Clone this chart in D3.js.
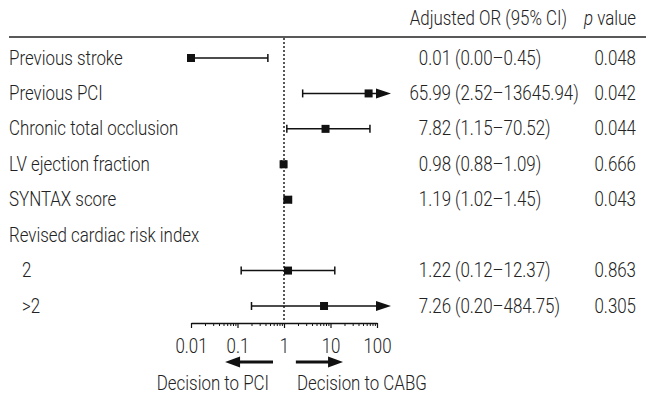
<!DOCTYPE html>
<html>
<head>
<meta charset="utf-8">
<script src="https://cdn.jsdelivr.net/npm/d3@7"></script>
<style>
  body { margin: 0; background: #fff; }
  text { font-family: Roboto, "Noto Sans", sans-serif; font-weight: 300; fill: #222; }
</style>
</head>
<body>
<svg id="chart" width="646" height="395"></svg>
<script>
// rows of the forest plot
var labels = ["Previous stroke", "Previous PCI", "Chronic total occlusion", "LV ejection fraction",
  "SYNTAX score", "Revised cardiac risk index", "2", ">2"];
var indented = [false, false, false, false, false, false, true, true];
var oddsRatio = [0.01, 65.99, 7.82, 0.98, 1.19, null, 1.22, 7.26];
var ciLow = [0.001, 2.52, 1.15, 0.88, 1.02, null, 0.12, 0.20];
var ciHigh = [0.45, 13645.94, 70.52, 1.09, 1.45, null, 12.37, 484.75];
var orText = ["0.01", "65.99", "7.82", "0.98", "1.19", "", "1.22", "7.26"];
var ciText = ["(0.00\u20130.45)", "(2.52\u201313645.94)", "(1.15\u201370.52)", "(0.88\u20131.09)",
  "(1.02\u20131.45)", "", "(0.12\u201312.37)", "(0.20\u2013484.75)"];
var pValues = ["0.048", "0.042", "0.044", "0.666", "0.043", "", "0.863", "0.305"];
var majorTicks = [0.01, 0.1, 1, 10, 100];
var arrowLimit = 200;

var svg = d3.select("#chart");

var x = d3.scaleLog().domain([0.01, 100]).range([191, 377]);
var y = d3.scaleLinear().domain([0, labels.length - 1]).range([58, 306]);

var fontSize = 20;
var squeeze = 0.845; // condensed look

// text drawn narrower than the font by scaling it horizontally
function label(parent, px, py, str, anchor) {
  return parent.append("text")
    .attr("transform", "translate(" + px + "," + py + ") scale(" + squeeze + ",1)")
    .attr("text-anchor", anchor || "start")
    .style("font-size", fontSize + "px")
    .text(str);
}

// header
label(svg, 567, 25, "Adjusted OR (95% CI)", "end");
var ph = label(svg, 636, 25, "", "end");
ph.append("tspan").style("font-style", "italic").text("p");
ph.append("tspan").text(" value");

svg.append("line").attr("x1", 9).attr("x2", 646).attr("y1", 37).attr("y2", 37)
  .attr("stroke", "#222").attr("stroke-width", 1.5);

// reference line at OR = 1
svg.append("line").attr("x1", x(1)).attr("x2", x(1)).attr("y1", 38).attr("y2", 322)
  .attr("stroke", "#222").attr("stroke-width", 1.5).attr("stroke-dasharray", "2,2");

var rows = svg.append("g").selectAll("g").data(labels).join("g")
  .attr("transform", function (d, i) { return "translate(0," + y(i) + ")"; });

rows.each(function (d, i) {
  var g = d3.select(this);
  label(g, indented[i] ? 22 : 9, 6.5, d);
  label(g, 451, 6.5, orText[i], "end");
  label(g, 455, 6.5, ciText[i]);
  label(g, 636, 6.5, pValues[i], "end");
});

// CI whiskers, caps, arrows and squares
rows.each(function (d, i) {
  if (oddsRatio[i] == null) return;
  var g = d3.select(this);
  var lowClipped = ciLow[i] < x.domain()[0];
  var highClipped = ciHigh[i] > x.domain()[1];
  var x0 = x(Math.max(ciLow[i], x.domain()[0]));
  var x1 = highClipped ? x(arrowLimit) : x(ciHigh[i]);
  g.append("line").attr("x1", x0).attr("x2", highClipped ? x1 - 10 : x1)
    .attr("stroke", "#111").attr("stroke-width", 1.5);
  if (!lowClipped) {
    g.append("line").attr("x1", x0).attr("x2", x0).attr("y1", -4).attr("y2", 4)
      .attr("stroke", "#111").attr("stroke-width", 1.5);
  }
  if (highClipped) {
    g.append("path").attr("d", "M" + (x1 - 15) + ",-5L" + x1 + ",0L" + (x1 - 15) + ",5Z")
      .attr("fill", "#111");
  } else {
    g.append("line").attr("x1", x1).attr("x2", x1).attr("y1", -4).attr("y2", 4)
      .attr("stroke", "#111").attr("stroke-width", 1.5);
  }
  var s = 8;
  g.append("rect").attr("x", x(oddsRatio[i]) - s / 2).attr("y", -s / 2)
    .attr("width", s).attr("height", s).attr("fill", "#111");
});

// axis
var minorTicks = [];
majorTicks.slice(0, -1).forEach(function (t) {
  for (var k = 2; k < 10; k++) minorTicks.push(t * k);
});

var axisY = 323;
svg.append("g").attr("transform", "translate(0," + axisY + ")")
  .call(d3.axisBottom(x).tickValues(minorTicks).tickSize(3).tickFormat(""))
  .call(function (g) {
    g.select(".domain").remove();
    g.selectAll("line").attr("stroke", "#111");
  });

var axisG = svg.append("g").attr("transform", "translate(0," + axisY + ")")
  .call(d3.axisBottom(x).tickValues(majorTicks).tickSize(5).tickSizeOuter(0).tickFormat(""));
axisG.select(".domain").attr("stroke", "#111").attr("stroke-width", 1.5);
axisG.selectAll("line").attr("stroke", "#111").attr("stroke-width", 1.2);
axisG.selectAll(".tick").each(function (d) {
  label(d3.select(this), 0, 29.5, d3.format("~g")(d), "middle");
});

// direction arrows
var arrowY = 362;
function hArrow(xFrom, xTo) {
  var dir = xTo > xFrom ? 1 : -1;
  svg.append("line").attr("x1", xFrom).attr("x2", xTo - dir * 10)
    .attr("y1", arrowY).attr("y2", arrowY).attr("stroke", "#111").attr("stroke-width", 3);
  svg.append("path").attr("d", "M" + (xTo - dir * 15) + "," + (arrowY - 5.5) + "L" + xTo + "," + arrowY +
    "L" + (xTo - dir * 15) + "," + (arrowY + 5.5) + "Z").attr("fill", "#111");
}
hArrow(x(0.58), x(0.054));
hArrow(x(1.8), x(18.6));

label(svg, 269, 390, "Decision to PCI", "end");
label(svg, 297, 390, "Decision to CABG");
</script>
</body>
</html>
